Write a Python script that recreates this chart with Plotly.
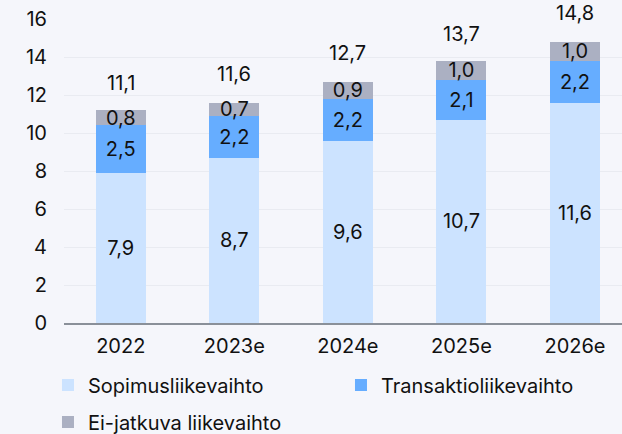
import plotly.graph_objects as go

categories = ["2022", "2023e", "2024e", "2025e", "2026e"]
sopimus = [7.9, 8.7, 9.6, 10.7, 11.6]
transaktio = [2.5, 2.2, 2.2, 2.1, 2.2]
eijatkuva = [0.8, 0.7, 0.9, 1.0, 1.0]
totals = [11.1, 11.6, 12.7, 13.7, 14.8]
y_ticks = [0, 2, 4, 6, 8, 10, 12, 14, 16]

FONT = "Inter"
FS = 20
BG = "#f5f6fb"
TXT = "#111111"

fig = go.Figure()
series = [
    ("Sopimusliikevaihto", sopimus, "#cce3ff", "legend"),
    ("Transaktioliikevaihto", transaktio, "#66adff", "legend"),
    ("Ei-jatkuva liikevaihto", eijatkuva, "#abb0c2", "legend2"),
]
for name, vals, col, lg in series:
    fig.add_trace(go.Bar(
        x=categories, y=vals, name=name, legend=lg,
        marker=dict(color=col, line=dict(width=0)),
        text=vals, texttemplate="%{y:.1f}", textposition="inside",
        insidetextanchor="middle",
        textfont=dict(family=FONT, size=FS, color=TXT),
        constraintext="none",
    ))

for i, t in enumerate(totals):
    fig.add_annotation(x=i, y=t, xref="x", yref="y",
                       text=f"{t:.1f}".replace(".", ","),
                       showarrow=False, yshift=29,
                       font=dict(family=FONT, size=FS, color=TXT))

legend_common = dict(orientation="h", xanchor="left", yanchor="middle",
                     font=dict(family=FONT, size=FS, color=TXT),
                     bgcolor="rgba(0,0,0,0)", itemwidth=30,
                     traceorder="normal")

fig.update_layout(
    width=622, height=434,
    barmode="stack", bargap=0.56,
    separators=", ",
    paper_bgcolor=BG, plot_bgcolor=BG,
    margin=dict(l=64, r=0, t=19, b=111, autoexpand=False),
    font=dict(family=FONT, size=FS, color=TXT),
    showlegend=True,
    legend=dict(x=-0.0287, y=-0.204, entrywidth=248, **legend_common),
    legend2=dict(x=-0.0287, y=-0.326, **legend_common),
)
fig.update_xaxes(type="category", range=[-0.5, 4.414], showgrid=False,
                 showline=True, linecolor="#8a9099", linewidth=2, ticks="",
                 ticklabelstandoff=4,
                 tickfont=dict(family=FONT, size=FS), fixedrange=True)
fig.update_yaxes(range=[0, 16], tickvals=y_ticks, showgrid=True,
                 gridcolor="#e9ebf1", gridwidth=1, zeroline=False,
                 showline=False, ticks="", ticklabelstandoff=16,
                 tickfont=dict(family=FONT, size=FS), fixedrange=True)

fig.write_html(
    "out.html",
    config={"displayModeBar": False},
    post_script="document.body.style.margin='0';document.body.style.background='#f5f6fb';",
)
